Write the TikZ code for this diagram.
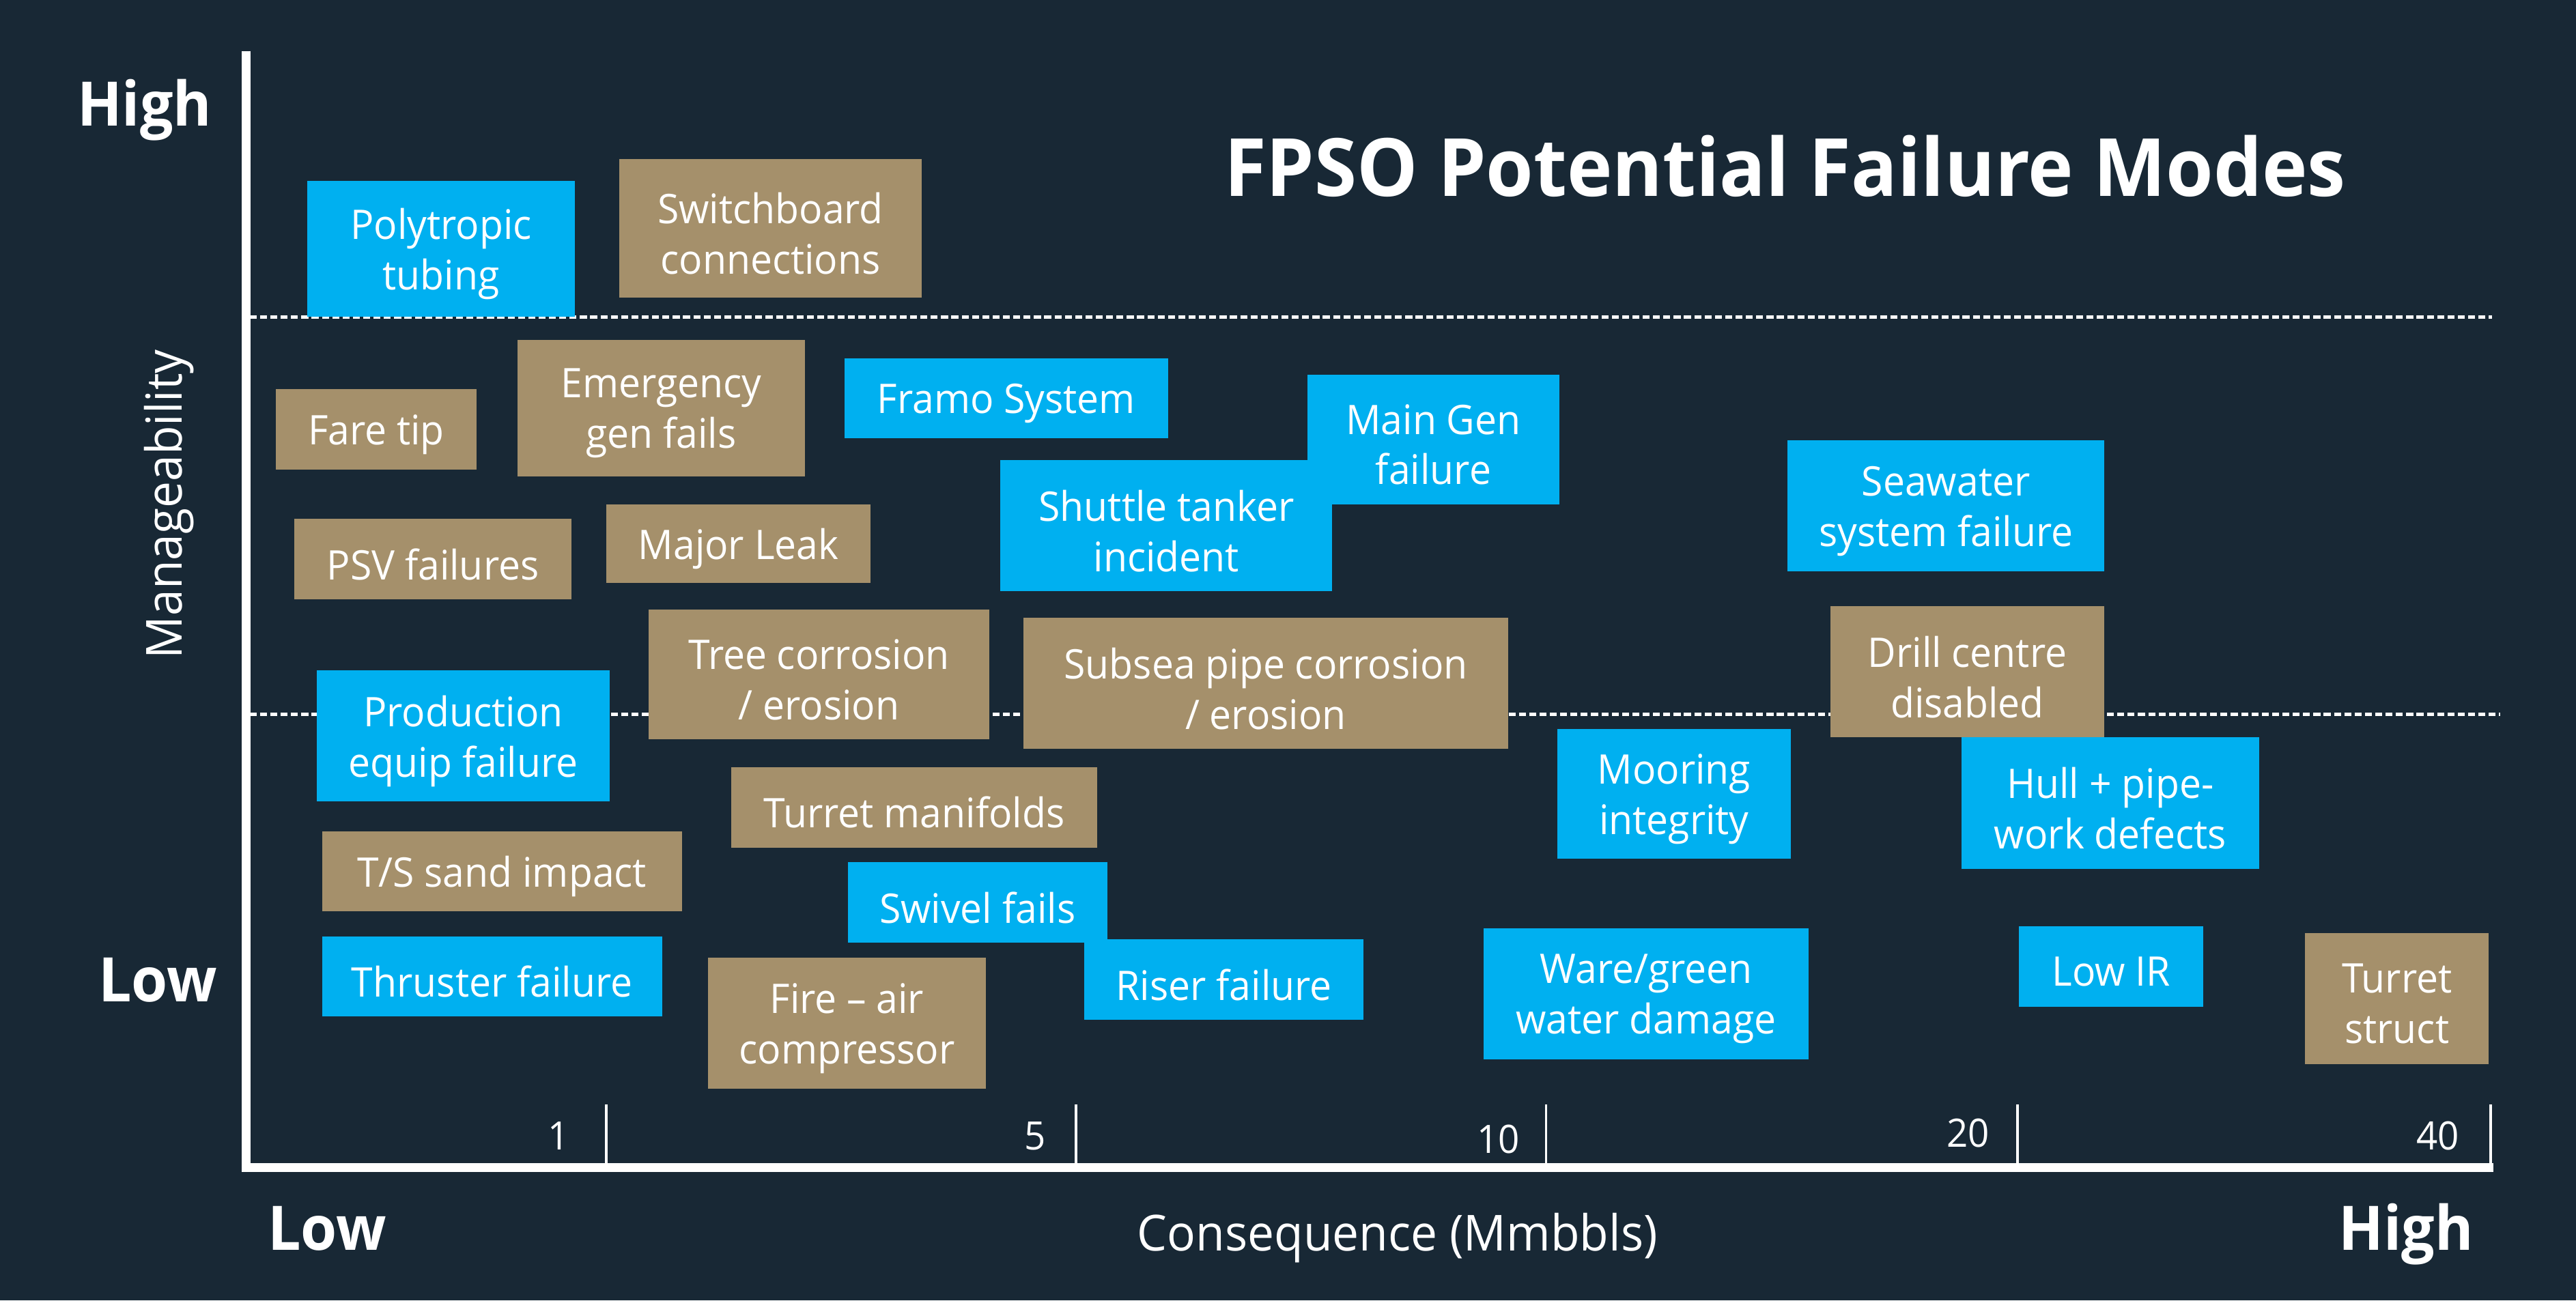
\documentclass[tikz,border=0pt]{standalone}
\usepackage{fontspec}
\setmainfont{Open Sans}[FakeStretch=0.955]
\definecolor{bgc}{RGB}{24,40,53}
\definecolor{bluec}{RGB}{0,176,240}
\definecolor{tanc}{RGB}{165,144,107}
\newcommand{\fmbox}[7]{%
  \node[#1, minimum width={(#5-#3)*0.024062cm}, minimum height={(#6-#4)*0.024062cm}] (#2) at ({(#3+#5)/2},{(#4+#6)/2}) {};
  \node[boxtext] (#2-t) at ([yshift=-3.2*0.024062cm]#2.center) {#7};}
\begin{document}
\begin{tikzpicture}[x=0.024062cm, y=-0.024062cm,
  boxbase/.style={inner sep=0pt, outer sep=0pt},
  boxtext/.style={inner sep=0pt, outer sep=0pt, align=center, text=white,
    font=\fontsize{17pt}{21pt}\selectfont},
  bluebox/.style={boxbase, fill=bluec},
  tanbox/.style={boxbase, fill=tanc},
  axisline/.style={draw=white, line width=3.7pt},
  tickline/.style={draw=white, line width=1pt},
  dashline/.style={draw=white, line width=1.3pt, dash pattern=on 2.9pt off 1.4pt},
  ticklab/.style={text=white, font=\fontsize{16.3pt}{19pt}\selectfont, inner sep=0pt},
  biglab/.style={text=white, font=\bfseries\fontsize{25.6pt}{30pt}\selectfont, inner sep=0pt, anchor=base},
  axlab/.style={text=white, font=\fontsize{20.7pt}{25pt}\selectfont, inner sep=0pt, anchor=base}
]
\useasboundingbox (0,0) rectangle (1568,791.7);
\fill[bgc] (0,0) rectangle (1568,791.7);

% dashed separators
\coordinate (d1a) at (152,193); \coordinate (d1b) at (1517,193);
\coordinate (d2a) at (152,435); \coordinate (d2b) at (1522,435);
\draw[dashline] (d1a) -- (d1b);
\draw[dashline] (d2a) -- (d2b);

% axes
\coordinate (ytop) at (150,31);
\coordinate (orig) at (150,711);
\coordinate (xend) at (1517.5,711);
\draw[axisline] (ytop) -- (orig) -- (xend);

% ticks
\foreach \tx/\nm in {369/t1,655/t2,941/t3,1228/t4,1516/t5}{
  \coordinate (\nm a) at (\tx,672.5);
  \coordinate (\nm b) at (\tx,709.5);
  \draw[tickline] (\nm a) -- (\nm b);
}
\node[ticklab] (l1) at (340,691.5) {1};
\node[ticklab] (l5) at (630,691.5) {5};
\node[ticklab] (l10) at (912,693.5) {10};
\node[ticklab] (l20) at (1198,690) {20};
\node[ticklab] (l40) at (1484,691.5) {40};

% axis labels
\node[biglab] (yhigh) at (88,76.8) {High};
\node[biglab] (ylow) at (96,610) {Low};
\node[biglab] (xlow) at (199,761) {Low};
\node[biglab] (xhigh) at (1464.6,761.3) {High};
\node[axlab] (xlab) at (850.6,761.4) {Consequence (Mmbbls)};
\node[axlab, rotate=90] (ylab) at (110.6,307) {Manageability};

% title
\node[text=white, font=\bfseries\fontsize{33.5pt}{40pt}\selectfont, inner sep=0pt, anchor=base] (title) at (1086.5,119.3) {FPSO Potential Failure Modes};

% boxes
\fmbox{bluebox}{pt}{187}{110}{350}{193}{Polytropic\\tubing}
\fmbox{tanbox}{sb}{377}{97}{561}{181}{Switchboard\\connections}
\fmbox{tanbox}{ft}{168}{237}{290}{286}{Fare tip}
\fmbox{tanbox}{eg}{315}{207}{490}{290}{Emergency\\gen fails}
\fmbox{bluebox}{fs}{514}{218}{711}{267}{Framo System}
\fmbox{bluebox}{mg}{796}{228}{949}{307}{Main Gen\\failure}
\fmbox{bluebox}{st}{609}{280}{811}{360}{Shuttle tanker\\incident}
\fmbox{bluebox}{sw}{1088}{268}{1281}{348}{Seawater\\system failure}
\fmbox{tanbox}{psv}{179}{316}{348}{365}{PSV failures}
\fmbox{tanbox}{ml}{369}{307}{530}{355}{Major Leak}
\fmbox{tanbox}{tc}{395}{371}{602}{450}{Tree corrosion\\/ erosion}
\fmbox{tanbox}{sp}{623}{376}{918}{456}{Subsea pipe corrosion\\/ erosion}
\fmbox{tanbox}{dc}{1114}{369}{1281}{449}{Drill centre\\disabled}
\fmbox{bluebox}{pe}{193}{408}{371}{488}{Production\\equip failure}
\fmbox{bluebox}{mi}{948}{444}{1090}{523}{Mooring\\integrity}
\fmbox{bluebox}{hp}{1194}{449}{1375}{529}{Hull + pipe-\\work defects}
\fmbox{tanbox}{tm}{445}{467}{668}{516}{Turret manifolds}
\fmbox{tanbox}{ts}{196}{506}{415}{555}{T/S sand impact}
\fmbox{bluebox}{sf}{516}{525}{674}{574}{Swivel fails}
\fmbox{bluebox}{th}{196}{570}{403}{619}{Thruster failure}
\fmbox{tanbox}{fa}{431}{583}{600}{663}{Fire – air\\compressor}
\fmbox{bluebox}{rf}{660}{572}{830}{621}{Riser failure}
\fmbox{bluebox}{wg}{903}{565}{1101}{645}{Ware/green\\water damage}
\fmbox{bluebox}{lir}{1229}{564}{1341}{613}{Low IR}
\fmbox{tanbox}{tus}{1403}{568}{1515}{648}{Turret\\struct}
\end{tikzpicture}
\end{document}
